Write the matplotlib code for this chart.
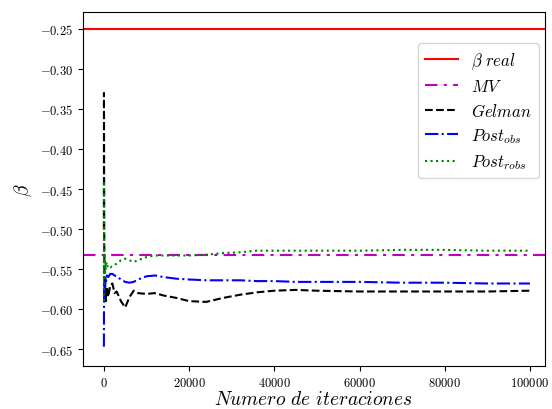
import matplotlib
matplotlib.use("Agg")
import matplotlib.pyplot as plt

plt.rcParams["mathtext.fontset"] = "cm"
plt.rcParams["font.family"] = "serif"
plt.rcParams["font.serif"] = ["cmr10", "DejaVu Serif"]
plt.rcParams["axes.formatter.use_mathtext"] = True

# Running estimates of beta along the chain
iteraciones = [0, 20, 50, 100, 150, 200, 300, 400, 500, 700, 1000, 1500, 2000,
               2500, 3000, 4000, 5000, 6000, 7000, 8000, 10000, 12000, 14000,
               17000, 20000, 24000, 28000, 32000, 36000, 40000, 45000, 50000,
               60000, 70000, 80000, 90000, 100000]

gelman = [-0.50, -0.33, -0.42, -0.55, -0.59, -0.57, -0.585, -0.575, -0.59,
          -0.572, -0.585, -0.570, -0.568, -0.580, -0.578, -0.590, -0.598,
          -0.585, -0.577, -0.580, -0.581, -0.580, -0.583, -0.586, -0.590,
          -0.591, -0.586, -0.582, -0.579, -0.577, -0.576, -0.577, -0.578,
          -0.578, -0.578, -0.578, -0.577]

post_obs = [-0.647, -0.60, -0.585, -0.57, -0.58, -0.565, -0.575, -0.56, -0.565,
            -0.558, -0.56, -0.556, -0.556, -0.558, -0.559, -0.563, -0.566,
            -0.567, -0.566, -0.563, -0.559, -0.558, -0.560, -0.562, -0.563,
            -0.564, -0.564, -0.564, -0.565, -0.565, -0.566, -0.566, -0.566,
            -0.567, -0.567, -0.568, -0.568]

post_robs = [-0.59, -0.44, -0.50, -0.56, -0.53, -0.555, -0.545, -0.55, -0.54,
             -0.548, -0.545, -0.548, -0.546, -0.545, -0.543, -0.539, -0.537,
             -0.539, -0.541, -0.539, -0.535, -0.533, -0.533, -0.533, -0.533,
             -0.532, -0.530, -0.529, -0.527, -0.527, -0.527, -0.527, -0.527,
             -0.526, -0.526, -0.527, -0.527]

beta_real = -0.25
beta_mv = -0.533

fig, ax = plt.subplots(figsize=(5.52, 4.10), dpi=100)
fig.subplots_adjust(left=0.150, right=0.987, top=0.968, bottom=0.105)

ax.axhline(beta_real, color="red", lw=1.5, label=r"$\beta\ real$")
ax.axhline(beta_mv, color="m", lw=1.5, ls=(0, (6, 3, 1.5, 3)), label=r"$MV$")
ax.plot(iteraciones, gelman, color="black", lw=1.5, ls="--", label=r"$Gelman$")
ax.plot(iteraciones, post_obs, color="blue", lw=1.5, ls="-.", label=r"$Post_{obs}$")
ax.plot(iteraciones, post_robs, color="green", lw=1.5, ls=":", label=r"$Post_{robs}$")

ax.set_xlim(-4950, 103500)
ax.set_ylim(-0.671, -0.229)
ax.set_xticks([0, 20000, 40000, 60000, 80000, 100000])
ax.set_yticks([-0.65, -0.60, -0.55, -0.50, -0.45, -0.40, -0.35, -0.30, -0.25])
ax.tick_params(labelsize=9)

ax.set_xlabel(r"$Numero\ de\ iteraciones$", fontsize=14, labelpad=1)
ax.set_ylabel(r"$\beta$", fontsize=14)

ax.legend(loc="upper right", bbox_to_anchor=(1.005, 0.935), fontsize=12,
          handlelength=2.0, labelspacing=0.45)

fig.savefig("out.png", dpi=100)
